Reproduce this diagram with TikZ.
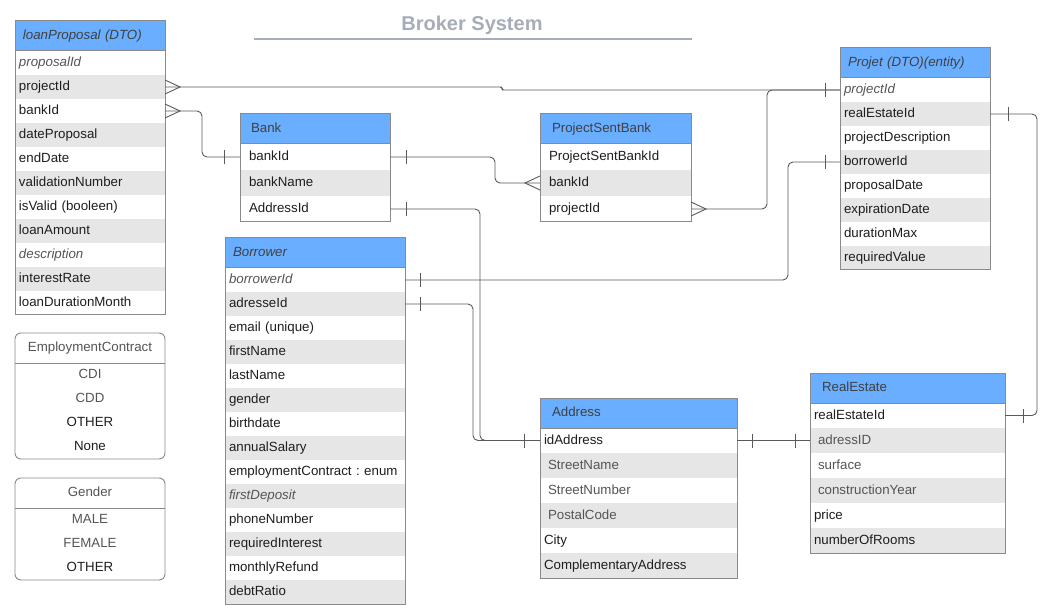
\documentclass[tikz,border=0pt]{standalone}
\usepackage{fontspec}
\setmainfont{Liberation Sans}
\usetikzlibrary{positioning,calc}
\definecolor{hdrblu}{HTML}{6AAEFF}
\definecolor{rowg}{HTML}{E6E6E6}
\definecolor{edg}{HTML}{8A8A8A}
\definecolor{lnc}{HTML}{5A5A5A}
\definecolor{txt}{HTML}{1E1E1E}
\definecolor{txg}{HTML}{555555}
\definecolor{ttlg}{HTML}{A7ADB8}
\newcommand{\kf}[1]{\textit{\color{txg}#1}}
\newcommand{\gf}[1]{{\color{txg}#1}}
\newcommand{\gi}[1]{\hspace*{4pt}{\color{txg}#1}}
\newcommand{\onemark}[2]{\draw[mk] ([xshift=#2,yshift=7pt]#1) -- ([xshift=#2,yshift=-7pt]#1);}
\newcommand{\crowmark}[2]{\draw[mk] ([yshift=7pt]#1) -- ([xshift=#2]#1) -- ([yshift=-7pt]#1);}
\newcommand{\enttable}[8][4pt]{%
  \pgfmathsetmacro\hw{#5-16}
  \pgfmathsetmacro\rw{#5-2*#1}
  \node[hdr, text width=\hw pt] (#2-h) at (#3,#4) {#7};
  \foreach \t [count=\i, remember=\i as \j (initially h), evaluate=\i as \c using {int(mod(\i,2))}] in {#8}{
    \node[fld, r\c, inner xsep=#1, text width=\rw pt, minimum height=#6] (#2-\i) at (#2-\j.south west) {\t};
    \xdef\lastrow{\i}}
  \draw[tframe] (#2-h.north west) rectangle (#2-\lastrow.south east);
  \draw[tframe] (#2-h.south west) -- (#2-h.south east);
}
\tikzset{
  hdr/.style={rectangle, fill=hdrblu, anchor=north west, minimum height=30pt, inner xsep=8pt, inner ysep=0pt, outer sep=0pt, align=left, text=txt!85, text height=10pt, text depth=3pt},
  fld/.style={rectangle, anchor=north west, inner ysep=0pt, outer sep=0pt, align=left, text=txt, text height=10pt, text depth=3pt},
  r0/.style={fill=rowg}, r1/.style={fill=white},
  tframe/.style={draw=edg, line width=1pt},
  conn/.style={draw=lnc, line width=0.9pt, rounded corners=5pt},
  mk/.style={draw=lnc, line width=0.9pt},
  enumbox/.style={draw=edg, line width=0.9pt, rounded corners=6pt},
  lit/.style={rectangle, anchor=north west, minimum width=150pt, minimum height=24pt, inner sep=0pt, outer sep=0pt, text=txt, text height=10pt, text depth=3pt},
  ttl/.style={font=\fontsize{20}{24}\selectfont\bfseries, text=ttlg},
  rule/.style={draw=ttlg, line width=1.2pt},
}
\begin{document}
\begin{tikzpicture}[x=1pt, y=-1pt, font=\fontsize{13.3}{16}\selectfont\frenchspacing]
 \useasboundingbox[fill=white] (0,0) rectangle (1047,612);
 \node[ttl] (title) at (472,25) {Broker System};
 \draw[rule] (254,39) -- (692,39);

 \enttable{lp}{15}{21}{150}{24pt}{\textit{loanProposal (DTO)}}{\kf{proposalId},projectId,bankId,dateProposal,endDate,validationNumber,isValid (booleen),loanAmount,\kf{description},interestRate,loanDurationMonth}
 \enttable[9pt]{bk}{240}{114}{150}{26pt}{\hspace*{3pt}Bank}{bankId,bankName,AddressId}
 \enttable[9pt]{psb}{540}{114}{151}{26pt}{\hspace*{4pt}ProjectSentBank}{ProjectSentBankId,bankId,projectId}
 \enttable{bw}{225}{238}{180}{24pt}{\textit{Borrower}}{\kf{borrowerId},adresseId,email (unique),firstName,lastName,gender,birthdate,annualSalary,employmentContract : enum,\kf{firstDeposit},phoneNumber,requiredInterest,monthlyRefund,debtRatio}
 \enttable{pj}{840}{48}{150}{24pt}{\textit{Projet (DTO)(entity)}}{\kf{projectId},realEstateId,projectDescription,borrowerId,proposalDate,expirationDate,durationMax,requiredValue}
 \enttable{ad}{540}{398}{197}{25pt}{\hspace*{4pt}Address}{idAddress,\gi{StreetName},\gi{StreetNumber},\gi{PostalCode},City,ComplementaryAddress}
 \enttable{re}{810}{373}{195}{25pt}{\hspace*{4pt}RealEstate}{realEstateId,\gi{adressID},\gi{surface},\gi{constructionYear},price,numberOfRooms}

 \node[lit, minimum height=30pt, text=txg] (ec-h) at (15,333) {EmploymentContract};
 \foreach \t [count=\i, remember=\i as \j (initially h)] in {\gf{CDI},\gf{CDD},OTHER,None}
   \node[lit] (ec-\i) at (ec-\j.south west) {\t};
 \draw[enumbox] (ec-h.north west) rectangle (ec-4.south east);
 \draw[enumbox] (ec-h.south west) -- (ec-h.south east);
 \node[lit, minimum height=30pt, text=txg] (gd-h) at (15,478) {Gender};
 \foreach \t [count=\i, remember=\i as \j (initially h)] in {\gf{MALE},\gf{FEMALE},OTHER}
   \node[lit] (gd-\i) at (gd-\j.south west) {\t};
 \draw[enumbox] (gd-h.north west) rectangle (gd-3.south east);
 \draw[enumbox] (gd-h.south west) -- (gd-h.south east);

 \draw[conn, rounded corners=2pt] (lp-2.east) -- ++(337,0) |- (pj-1.west);
 \draw[conn] (lp-3.east) -- ++(37,0) |- (bk-1.west);
 \draw[conn] (bk-1.east) -- ++(105,0) |- (psb-2.west);
 \draw[conn] (psb-3.east) -- ++(76,0) |- (pj-1.west);
 \draw[conn] (bk-3.east) -- ++(90,0) |- (ad-1.west);
 \draw[conn] (bw-2.east) -- ++(68,0) |- (ad-1.west);
 \draw[conn] (bw-1.east) -- ++(383,0) |- (pj-4.west);
 \draw[conn] (pj-2.east) -- ++(47,0) |- (re-1.east);
 \draw[conn] (ad-1.east) -- (re-2.west);

 \crowmark{lp-2.east}{15pt} \crowmark{lp-3.east}{15pt}
 \crowmark{psb-2.west}{-15pt} \crowmark{psb-3.east}{15pt}
 \onemark{pj-1.west}{-15pt} \onemark{bk-1.west}{-16pt}
 \onemark{bk-1.east}{16pt} \onemark{bk-3.east}{16pt}
 \onemark{bw-1.east}{15pt} \onemark{bw-2.east}{15pt}
 \onemark{pj-4.west}{-15pt} \onemark{pj-2.east}{18pt}
 \onemark{re-1.east}{18pt} \onemark{ad-1.west}{-16pt}
 \onemark{ad-1.east}{15pt} \onemark{re-2.west}{-15pt}
\end{tikzpicture}
\end{document}
